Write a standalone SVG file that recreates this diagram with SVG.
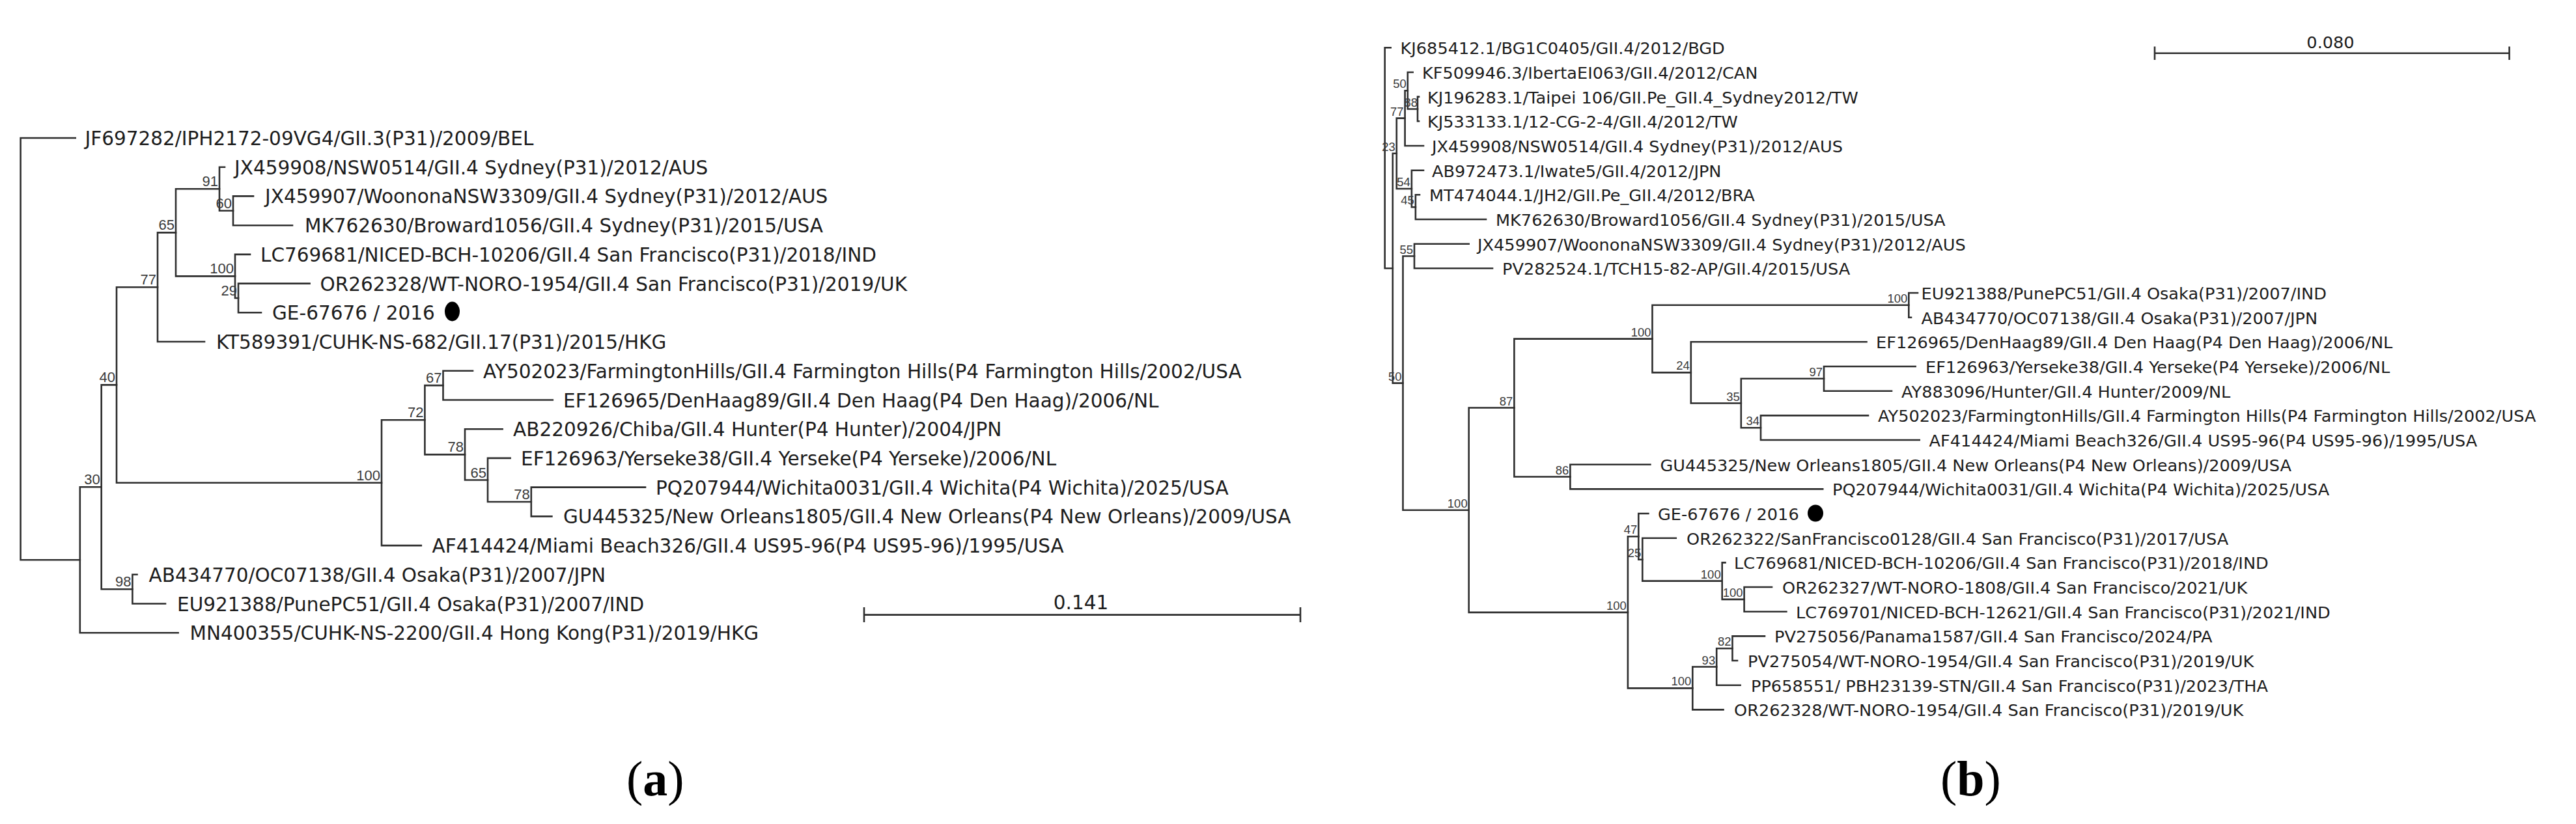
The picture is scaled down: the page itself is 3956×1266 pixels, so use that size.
<svg xmlns="http://www.w3.org/2000/svg" width="3956" height="1266" viewBox="0 0 3956 1266">
<style>
.br{fill:none;stroke:#2e2e2e;stroke-width:2.6;stroke-linecap:square}
.tl{font-family:"DejaVu Sans",sans-serif;font-size:29.5px;fill:#1c1c1c}
.tr{font-family:"DejaVu Sans",sans-serif;font-size:25.6px;fill:#1c1c1c}
.bl{font-family:"Liberation Sans",Arial,sans-serif;font-size:22px;fill:#3a3a3a;text-anchor:end}
.bb{font-family:"Liberation Sans",Arial,sans-serif;font-size:18.5px;fill:#3a3a3a;text-anchor:end}
.sc{font-family:"DejaVu Sans",sans-serif;fill:#1c1c1c;text-anchor:middle}
.pl{font-family:"Liberation Serif","Times New Roman",serif;font-size:76px;fill:#000}
.dot{fill:#000}
</style>
<rect width="3956" height="1266" fill="#fff"/>

<g id="connectors">
<!-- left tree -->
<path class="br" d="M31.6,212 V860.2 M31.6,212 H115.7 M31.6,860.2 H122.8"/>
<path class="br" d="M122.8,748.3 V972.2 M122.8,748.3 H155.7 M122.8,972.2 H273.6"/>
<path class="br" d="M155.7,591.4 V905.2 M155.7,591.4 H179 M155.7,905.2 H203.4"/>
<path class="br" d="M203.4,882.8 V927.5 M203.4,882.8 H210.5 M203.4,927.5 H254"/>
<path class="br" d="M179,441.2 V741.7 M179,441.2 H242 M179,741.7 H586"/>
<path class="br" d="M242,357.4 V525 M242,357.4 H270 M242,525 H314"/>
<path class="br" d="M270,290.3 V424.4 M270,290.3 H337 M270,424.4 H361"/>
<path class="br" d="M337,256.7 V323.8 M337,256.7 H345 M337,323.8 H358"/>
<path class="br" d="M358,301.4 V346.2 M358,301.4 H389 M358,346.2 H449"/>
<path class="br" d="M361,390.9 V458 M361,390.9 H384 M361,458 H366"/>
<path class="br" d="M366,435.6 V480.3 M366,435.6 H475.6 M366,480.3 H401"/>
<path class="br" d="M586,645.2 V838.1 M586,645.2 H652.4 M586,838.1 H646.8"/>
<path class="br" d="M652.4,592.1 V698.4 M652.4,592.1 H680.5 M652.4,698.4 H714"/>
<path class="br" d="M680.5,569.8 V614.5 M680.5,569.8 H726 M680.5,614.5 H848.8"/>
<path class="br" d="M714,659.2 V737.5 M714,659.2 H771.6 M714,737.5 H749"/>
<path class="br" d="M749,703.9 V771 M749,703.9 H783.6 M749,771 H815.8"/>
<path class="br" d="M815.8,748.6 V793.4 M815.8,748.6 H991 M815.8,793.4 H847.4"/>
<!-- left scale bar -->
<path class="br" d="M1327,944.6 H1997 M1327,934.3 V954.6 M1997,934.3 V954.6"/>
<!-- right tree -->
<path class="br" d="M2126.7,73.3 V412.2 M2126.7,73.3 H2135.7 M2126.7,412.2 H2138.8"/>
<path class="br" d="M2138.8,235.8 V588.6 M2138.8,235.8 H2144.8 M2138.8,588.6 H2154.5"/>
<path class="br" d="M2144.8,181.6 V290 M2144.8,181.6 H2157.6 M2144.8,290 H2167.9"/>
<path class="br" d="M2157.6,139.2 V224 M2157.6,139.2 H2161.8 M2157.6,224 H2186"/>
<path class="br" d="M2161.8,111 V167.5 M2161.8,111 H2169.7 M2161.8,167.5 H2177"/>
<path class="br" d="M2177,148.6 V186.3 M2177,148.6 H2179 M2177,186.3 H2179"/>
<path class="br" d="M2167.9,261.7 V318.2 M2167.9,261.7 H2186 M2167.9,318.2 H2173.9"/>
<path class="br" d="M2173.9,299.3 V337 M2173.9,299.3 H2180 M2173.9,337 H2282"/>
<path class="br" d="M2154.5,393.5 V783.7 M2154.5,393.5 H2172 M2154.5,783.7 H2255.7"/>
<path class="br" d="M2172,374.7 V412.3 M2172,374.7 H2255.7 M2172,412.3 H2292"/>
<path class="br" d="M2255.7,626.5 V940.9 M2255.7,626.5 H2325.4 M2255.7,940.9 H2499.9"/>
<path class="br" d="M2325.4,520.6 V732.5 M2325.4,520.6 H2537.5 M2325.4,732.5 H2411.4"/>
<path class="br" d="M2537.5,468.8 V572.4 M2537.5,468.8 H2931.3 M2537.5,572.4 H2596.8"/>
<path class="br" d="M2931.3,450 V487.7 M2931.3,450 H2945 M2931.3,487.7 H2935"/>
<path class="br" d="M2596.8,525.3 V619.5 M2596.8,525.3 H2866.5 M2596.8,619.5 H2673.8"/>
<path class="br" d="M2673.8,581.8 V657.2 M2673.8,581.8 H2801 M2673.8,657.2 H2704"/>
<path class="br" d="M2801,563 V600.7 M2801,563 H2941.6 M2801,600.7 H2905"/>
<path class="br" d="M2704,638.4 V676 M2704,638.4 H2869 M2704,676 H2947.7"/>
<path class="br" d="M2411.4,713.7 V751.4 M2411.4,713.7 H2534.4 M2411.4,751.4 H2799.2"/>
<path class="br" d="M2499.9,824.3 V1057.4 M2499.9,824.3 H2516.3 M2499.9,1057.4 H2599.3"/>
<path class="br" d="M2516.3,789 V859.7 M2516.3,789 H2531.4 M2516.3,859.7 H2522.3"/>
<path class="br" d="M2522.3,826.7 V892.6 M2522.3,826.7 H2573.8 M2522.3,892.6 H2644.7"/>
<path class="br" d="M2644.7,864.4 V920.9 M2644.7,864.4 H2649.5 M2644.7,920.9 H2678.6"/>
<path class="br" d="M2678.6,902 V939.7 M2678.6,902 H2721 M2678.6,939.7 H2743.4"/>
<path class="br" d="M2599.3,1024.5 V1090.4 M2599.3,1024.5 H2636.2 M2599.3,1090.4 H2646.5"/>
<path class="br" d="M2636.2,996.2 V1052.7 M2636.2,996.2 H2660.5 M2636.2,1052.7 H2672.6"/>
<path class="br" d="M2660.5,977.4 V1015 M2660.5,977.4 H2710 M2660.5,1015 H2668"/>
<!-- right scale bar -->
<path class="br" d="M3309,81.7 H3853.6 M3309,72.7 V90.7 M3853.6,72.7 V90.7"/>
</g>

<!-- ===== Panel (a) leaves ===== -->
<g id="a-JF697282"><text class="tl" x="130.5" y="223">JF697282/IPH2172-09VG4/GII.3(P31)/2009/BEL</text></g>
<g id="a-JX459908"><text class="tl" x="360" y="267.7">JX459908/NSW0514/GII.4 Sydney(P31)/2012/AUS</text></g>
<g id="a-JX459907"><text class="tl" x="407" y="312.4">JX459907/WoononaNSW3309/GII.4 Sydney(P31)/2012/AUS</text></g>
<g id="a-MK762630"><text class="tl" x="468" y="357.2">MK762630/Broward1056/GII.4 Sydney(P31)/2015/USA</text></g>
<g id="a-LC769681"><text class="tl" x="400" y="401.9">LC769681/NICED-BCH-10206/GII.4 San Francisco(P31)/2018/IND</text></g>
<g id="a-OR262328"><text class="tl" x="491.5" y="446.6">OR262328/WT-NORO-1954/GII.4 San Francisco(P31)/2019/UK</text></g>
<g id="a-GE67676"><text class="tl" x="418" y="491.3">GE-67676 / 2016</text><ellipse class="dot" cx="694.5" cy="478.5" rx="11.5" ry="15"/></g>
<g id="a-KT589391"><text class="tl" x="332" y="536">KT589391/CUHK-NS-682/GII.17(P31)/2015/HKG</text></g>
<g id="a-AY502023"><text class="tl" x="742" y="580.8">AY502023/FarmingtonHills/GII.4 Farmington Hills(P4 Farmington Hills/2002/USA</text></g>
<g id="a-EF126965"><text class="tl" x="865" y="625.5">EF126965/DenHaag89/GII.4 Den Haag(P4 Den Haag)/2006/NL</text></g>
<g id="a-AB220926"><text class="tl" x="788" y="670.2">AB220926/Chiba/GII.4 Hunter(P4 Hunter)/2004/JPN</text></g>
<g id="a-EF126963"><text class="tl" x="800" y="714.9">EF126963/Yerseke38/GII.4 Yerseke(P4 Yerseke)/2006/NL</text></g>
<g id="a-PQ207944"><text class="tl" x="1007" y="759.6">PQ207944/Wichita0031/GII.4 Wichita(P4 Wichita)/2025/USA</text></g>
<g id="a-GU445325"><text class="tl" x="865" y="804.4">GU445325/New Orleans1805/GII.4 New Orleans(P4 New Orleans)/2009/USA</text></g>
<g id="a-AF414424"><text class="tl" x="663.5" y="849.1">AF414424/Miami Beach326/GII.4 US95-96(P4 US95-96)/1995/USA</text></g>
<g id="a-AB434770"><text class="tl" x="228.5" y="893.8">AB434770/OC07138/GII.4 Osaka(P31)/2007/JPN</text></g>
<g id="a-EU921388"><text class="tl" x="272" y="938.5">EU921388/PunePC51/GII.4 Osaka(P31)/2007/IND</text></g>
<g id="a-MN400355"><text class="tl" x="291.5" y="983.2">MN400355/CUHK-NS-2200/GII.4 Hong Kong(P31)/2019/HKG</text></g>

<!-- Panel (a) internal nodes (bootstrap) -->
<g id="a-n91"><text class="bl" x="335" y="286.3">91</text></g>
<g id="a-n60"><text class="bl" x="356" y="319.8">60</text></g>
<g id="a-n65"><text class="bl" x="268" y="353.4">65</text></g>
<g id="a-n100a"><text class="bl" x="359" y="420.4">100</text></g>
<g id="a-n29"><text class="bl" x="364" y="454">29</text></g>
<g id="a-n77"><text class="bl" x="240" y="437.2">77</text></g>
<g id="a-n40"><text class="bl" x="177" y="587.4">40</text></g>
<g id="a-n67"><text class="bl" x="678.5" y="588.1">67</text></g>
<g id="a-n72"><text class="bl" x="650.4" y="641.2">72</text></g>
<g id="a-n78a"><text class="bl" x="712" y="694.4">78</text></g>
<g id="a-n65b"><text class="bl" x="747" y="733.5">65</text></g>
<g id="a-n78c"><text class="bl" x="813.8" y="767">78</text></g>
<g id="a-n100b"><text class="bl" x="584" y="737.7">100</text></g>
<g id="a-n30"><text class="bl" x="153.7" y="744.3">30</text></g>
<g id="a-n98"><text class="bl" x="201.4" y="901.2">98</text></g>

<g id="a-scale"><text class="sc" x="1660" y="936" font-size="29.5">0.141</text></g>
<g id="a-label"><text class="pl" x="962" y="1222">(<tspan font-weight="bold">a</tspan>)</text></g>

<!-- ===== Panel (b) leaves ===== -->
<g id="b-KJ685412"><text class="tr" x="2150.5" y="83.3">KJ685412.1/BG1C0405/GII.4/2012/BGD</text></g>
<g id="b-KF509946"><text class="tr" x="2184" y="121">KF509946.3/IbertaEI063/GII.4/2012/CAN</text></g>
<g id="b-KJ196283"><text class="tr" x="2192" y="158.6">KJ196283.1/Taipei 106/GII.Pe_GII.4_Sydney2012/TW</text></g>
<g id="b-KJ533133"><text class="tr" x="2192" y="196.3">KJ533133.1/12-CG-2-4/GII.4/2012/TW</text></g>
<g id="b-JX459908"><text class="tr" x="2199" y="234">JX459908/NSW0514/GII.4 Sydney(P31)/2012/AUS</text></g>
<g id="b-AB972473"><text class="tr" x="2199" y="271.7">AB972473.1/Iwate5/GII.4/2012/JPN</text></g>
<g id="b-MT474044"><text class="tr" x="2195" y="309.3">MT474044.1/JH2/GII.Pe_GII.4/2012/BRA</text></g>
<g id="b-MK762630"><text class="tr" x="2297" y="347">MK762630/Broward1056/GII.4 Sydney(P31)/2015/USA</text></g>
<g id="b-JX459907"><text class="tr" x="2269" y="384.7">JX459907/WoononaNSW3309/GII.4 Sydney(P31)/2012/AUS</text></g>
<g id="b-PV282524"><text class="tr" x="2307" y="422.3">PV282524.1/TCH15-82-AP/GII.4/2015/USA</text></g>
<g id="b-EU921388"><text class="tr" x="2950.5" y="460">EU921388/PunePC51/GII.4 Osaka(P31)/2007/IND</text></g>
<g id="b-AB434770"><text class="tr" x="2950.5" y="497.7">AB434770/OC07138/GII.4 Osaka(P31)/2007/JPN</text></g>
<g id="b-EF126965"><text class="tr" x="2881" y="535.3">EF126965/DenHaag89/GII.4 Den Haag(P4 Den Haag)/2006/NL</text></g>
<g id="b-EF126963"><text class="tr" x="2957" y="573">EF126963/Yerseke38/GII.4 Yerseke(P4 Yerseke)/2006/NL</text></g>
<g id="b-AY883096"><text class="tr" x="2920" y="610.7">AY883096/Hunter/GII.4 Hunter/2009/NL</text></g>
<g id="b-AY502023"><text class="tr" x="2884" y="648.4">AY502023/FarmingtonHills/GII.4 Farmington Hills(P4 Farmington Hills/2002/USA</text></g>
<g id="b-AF414424"><text class="tr" x="2962.6" y="686">AF414424/Miami Beach326/GII.4 US95-96(P4 US95-96)/1995/USA</text></g>
<g id="b-GU445325"><text class="tr" x="2549.5" y="723.7">GU445325/New Orleans1805/GII.4 New Orleans(P4 New Orleans)/2009/USA</text></g>
<g id="b-PQ207944"><text class="tr" x="2814" y="761.4">PQ207944/Wichita0031/GII.4 Wichita(P4 Wichita)/2025/USA</text></g>
<g id="b-GE67676"><text class="tr" x="2546" y="799">GE-67676 / 2016</text><ellipse class="dot" cx="2788" cy="788.5" rx="12" ry="13"/></g>
<g id="b-OR262322"><text class="tr" x="2590" y="836.7">OR262322/SanFrancisco0128/GII.4 San Francisco(P31)/2017/USA</text></g>
<g id="b-LC769681"><text class="tr" x="2663" y="874.4">LC769681/NICED-BCH-10206/GII.4 San Francisco(P31)/2018/IND</text></g>
<g id="b-OR262327"><text class="tr" x="2737" y="912">OR262327/WT-NORO-1808/GII.4 San Francisco/2021/UK</text></g>
<g id="b-LC769701"><text class="tr" x="2758" y="949.7">LC769701/NICED-BCH-12621/GII.4 San Francisco(P31)/2021/IND</text></g>
<g id="b-PV275056"><text class="tr" x="2725" y="987.4">PV275056/Panama1587/GII.4 San Francisco/2024/PA</text></g>
<g id="b-PV275054"><text class="tr" x="2684" y="1025">PV275054/WT-NORO-1954/GII.4 San Francisco(P31)/2019/UK</text></g>
<g id="b-PP658551"><text class="tr" x="2689" y="1062.7">PP658551/ PBH23139-STN/GII.4 San Francisco(P31)/2023/THA</text></g>
<g id="b-OR262328"><text class="tr" x="2663" y="1100.4">OR262328/WT-NORO-1954/GII.4 San Francisco(P31)/2019/UK</text></g>

<!-- Panel (b) internal nodes (bootstrap) -->
<g id="b-n88"><text class="bb" x="2177" y="163.5">88</text></g>
<g id="b-n50a"><text class="bb" x="2159.8" y="135.2">50</text></g>
<g id="b-n77"><text class="bb" x="2155.6" y="177.6">77</text></g>
<g id="b-n23"><text class="bb" x="2142.8" y="231.8">23</text></g>
<g id="b-n54"><text class="bb" x="2165.9" y="286">54</text></g>
<g id="b-n45"><text class="bb" x="2171.9" y="314.2">45</text></g>
<g id="b-n55"><text class="bb" x="2170" y="389.5">55</text></g>
<g id="b-n50"><text class="bb" x="2152.5" y="584.6">50</text></g>
<g id="b-n100big"><text class="bb" x="2253.7" y="779.7">100</text></g>
<g id="b-n87"><text class="bb" x="2323.4" y="622.5">87</text></g>
<g id="b-n100P4"><text class="bb" x="2535.5" y="516.6">100</text></g>
<g id="b-nOsaka"><text class="bb" x="2929.3" y="464.8">100</text></g>
<g id="b-n24"><text class="bb" x="2594.8" y="568.4">24</text></g>
<g id="b-n35"><text class="bb" x="2671.8" y="615.5">35</text></g>
<g id="b-n97"><text class="bb" x="2799" y="577.8">97</text></g>
<g id="b-n34"><text class="bb" x="2702" y="653.2">34</text></g>
<g id="b-n86"><text class="bb" x="2409.4" y="728.5">86</text></g>
<g id="b-n100SF"><text class="bb" x="2497.9" y="936.9">100</text></g>
<g id="b-n47"><text class="bb" x="2514.3" y="820.3">47</text></g>
<g id="b-n25"><text class="bb" x="2520.3" y="855.7">25</text></g>
<g id="b-n100LC"><text class="bb" x="2642.7" y="888.6">100</text></g>
<g id="b-n100b2"><text class="bb" x="2676.6" y="916.9">100</text></g>
<g id="b-n100PV"><text class="bb" x="2597.3" y="1053.4">100</text></g>
<g id="b-n93"><text class="bb" x="2634.2" y="1020.5">93</text></g>
<g id="b-n82"><text class="bb" x="2658.5" y="992.2">82</text></g>

<g id="b-scale"><text class="sc" x="3579" y="74" font-size="25.6">0.080</text></g>
<g id="b-label"><text class="pl" x="2980" y="1222">(<tspan font-weight="bold">b</tspan>)</text></g>
</svg>
